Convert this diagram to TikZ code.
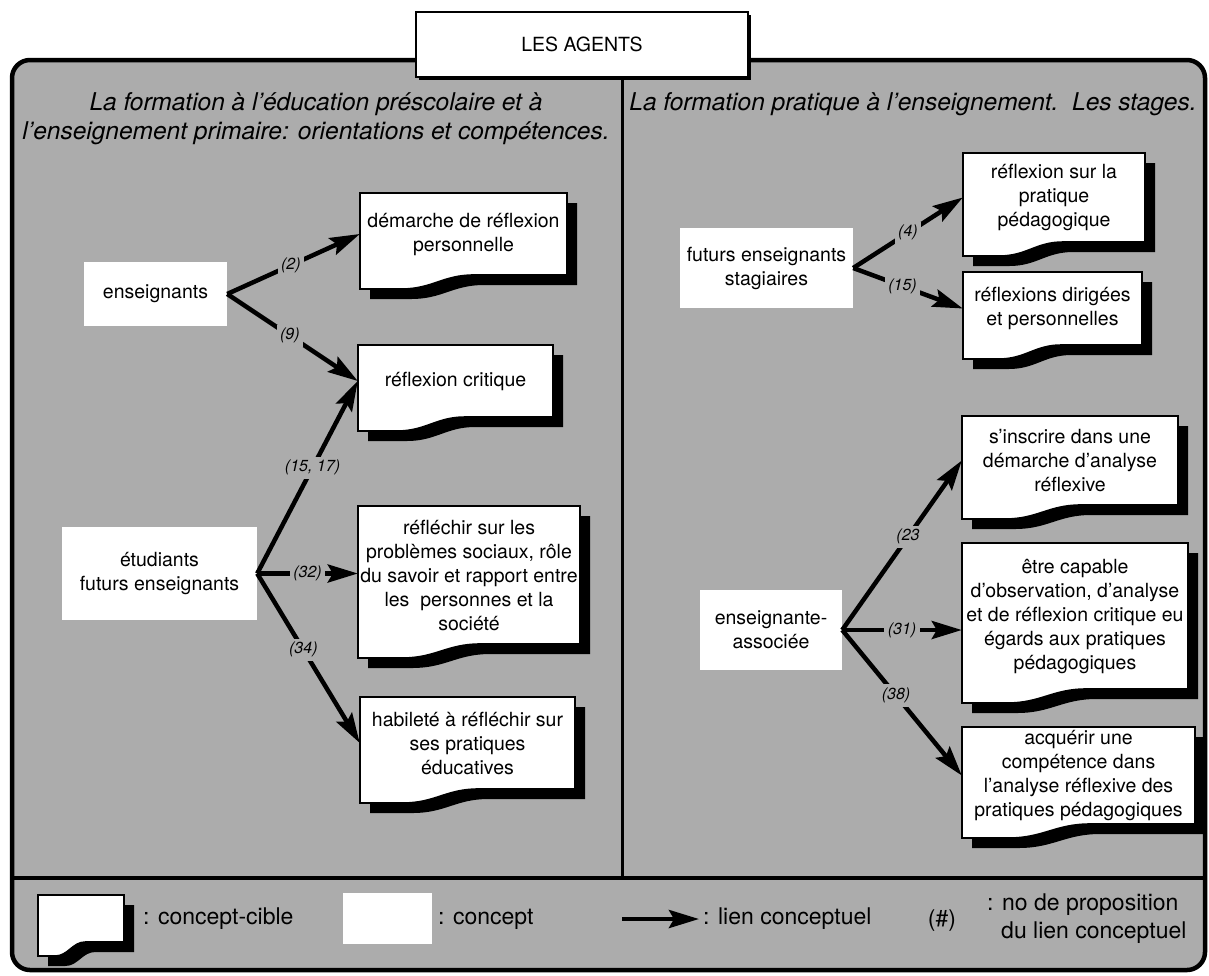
\documentclass[tikz,border=0pt]{standalone}
\usepackage{fontspec}
\setmainfont{TeX Gyre Heros}
\usetikzlibrary{arrows.meta}
\pgfdeclarelayer{panel}
\pgfdeclarelayer{cards}
\pgfsetlayers{panel,cards,main}
\definecolor{panelgray}{RGB}{172,172,172}

\newcommand\boxfont{\fontsize{19.5}{24}\selectfont}
\newcommand\numfont{\itshape\fontsize{16}{19}\selectfont}
\newcommand\headfont{\itshape\fontsize{24.5}{29}\selectfont}
\newcommand\legfont{\fontsize{23}{28}\selectfont}

\tikzset{
  concept/.style={fill=white, draw=none, align=center, font=\boxfont, inner sep=0pt},
  ciblelabel/.style={align=center, font=\boxfont, inner sep=0pt},
  link/.style={line width=4.5pt, -{Stealth[length=30pt,width=18pt,inset=5pt]}},
  num/.style={font=\numfont, fill=panelgray, inner sep=3.5pt},
  heading/.style={font=\headfont, align=center},
  legend/.style={font=\legfont, align=left, inner sep=0pt},
}

% target concept: white card with a wavy bottom edge and a black drop shadow
% #1 name, #2 left, #3 top, #4 right, #5 bottom (left side), #6 text
\newcommand\cible[6]{%
  \begin{pgfonlayer}{cards}
    \fill[black,shift={(10,10)}] (#2,#3) -- (#4,#3) -- (#4,{#5-14})
      -- ({#2+0.55*(#4-#2)},{#5-14})
      .. controls ({#2+0.4*(#4-#2)},{#5-14}) and ({#2+0.35*(#4-#2)},#5) ..
      ({#2+0.2*(#4-#2)},#5) -- (#2,#5) -- cycle;
    \filldraw[fill=white,draw=black,line width=1.6pt] (#2,#3) -- (#4,#3) -- (#4,{#5-14})
      -- ({#2+0.55*(#4-#2)},{#5-14})
      .. controls ({#2+0.4*(#4-#2)},{#5-14}) and ({#2+0.35*(#4-#2)},#5) ..
      ({#2+0.2*(#4-#2)},#5) -- (#2,#5) -- cycle;
  \end{pgfonlayer}
  \node[ciblelabel,minimum width={#4-#2},minimum height={#5-14-#3}]
    (#1) at ({(#2+#4)/2},{(#3+#5-14)/2}) {#6};
}

\begin{document}
\begin{tikzpicture}[x=1pt,y=-1pt]
\useasboundingbox (0,0) rectangle (1209,975);

% outer frame
\begin{pgfonlayer}{panel}
  \filldraw[fill=panelgray, draw=black, line width=4.5pt, rounded corners=18pt]
    (12,60) rectangle (1205,970);
\end{pgfonlayer}

% frame dividers
\coordinate (divtop) at (622,77);
\coordinate (divbot) at (622,878);
\coordinate (sepl) at (12,878);
\coordinate (sepr) at (1205,878);
\draw[line width=3pt] (divtop) -- (divbot);
\draw[line width=4.5pt] (sepl) -- (sepr);

% title
\fill[black] (419,15) rectangle (751,80);
\node[draw=black, line width=1.2pt, fill=white, minimum width=332, minimum height=65,
      font=\boxfont, inner sep=0pt] (title) at (582,44.5) {LES AGENTS};

% headings
\node[heading] (headl) at (316,118.5) {La formation à l'éducation préscolaire et à\\l'enseignement primaire: orientations et compétences.};
\node[heading] (headr) at (913,104) {La formation pratique à l'enseignement.\ \ Les stages.};

% ---- left panel ----
\node[concept, minimum width=143, minimum height=64] (ens) at (155.5,294) {enseignants};
\node[concept, minimum width=195, minimum height=93] (etu) at (159.5,573.5) {étudiants\\futurs enseignants};

\cible{dem}{360}{193}{567}{289}{démarche de réflexion\\personnelle}
\cible{crit}{358}{345}{553}{431}{réflexion critique}
\cible{refl}{358}{506}{580}{658}{réfléchir sur les\\problèmes sociaux, rôle\\du savoir et rapport entre\\les\ \ personnes et la\\société}
\cible{hab}{360}{697}{575}{803}{habileté à réfléchir sur\\ses pratiques\\éducatives}

\draw[link] (ens.east) -- node[num,pos=.48]{(2)} (dem.west);
\draw[link] (ens.east) -- node[num,pos=.48]{(9)} (crit.west);
\draw[link] (etu.east) -- node[num,pos=.55]{(15, 17)} (crit.west);
\draw[link] (etu.east) -- node[num,pos=.5]{(32)} (refl.west |- etu.east);
\draw[link] (etu.east) -- node[num,pos=.45]{(34)} (hab.west);

% ---- right panel ----
\node[concept, minimum width=173, minimum height=80] (fut) at (766.5,268) {futurs enseignants\\stagiaires};
\node[concept, minimum width=142, minimum height=80] (ea) at (771,630) {enseignante-\\associée};

\cible{prat}{963}{153}{1145}{256}{réflexion sur la\\pratique\\pédagogique}
\cible{dir}{963}{272}{1142}{359}{réflexions dirigées\\et personnelles}
\cible{insc}{962}{416}{1178}{519}{s'inscrire dans une\\démarche d'analyse\\réflexive}
\cible{cap}{962}{543}{1188}{703}{être capable\\d'observation, d'analyse\\et de réflexion critique eu\\égards aux pratiques\\pédagogiques}
\cible{acq}{962}{727}{1195}{838}{acquérir une\\compétence dans\\l'analyse réflexive des\\pratiques pédagogiques}

\draw[link] (fut.east) -- node[num,pos=.5]{(4)} (prat.west);
\draw[link] (fut.east) -- node[num,pos=.45]{(15)} (dir.west);
\draw[link] (ea.east) -- node[num,pos=.55]{(23} (insc.west);
\draw[link] (ea.east) -- node[num,pos=.5]{(31)} (cap.west |- ea.east);
\draw[link] (ea.east) -- node[num,pos=.45]{(38)} (acq.west);

% ---- legend ----
\cible{legcible}{38}{895}{124}{956}{}
\node[legend, anchor=west] (legciblet) at (143,919) {: concept-cible};
\node[fill=white, minimum width=89, minimum height=51, inner sep=0pt] (legconcept) at (387.5,918.5) {};
\node[legend, anchor=west] (legconceptt) at (438,919) {: concept};
\coordinate (larrowa) at (622,919);
\coordinate (larrowb) at (699,919);
\draw[link] (larrowa) -- (larrowb);
\node[legend, anchor=west] (legliment) at (703,919) {: lien conceptuel};
\node[legend] (legnum) at (942,921) {(\#)};
\node[legend, anchor=west] (legprop) at (987,919) {: no de proposition\\\hspace*{14pt}du lien conceptuel};
\end{tikzpicture}
\end{document}
